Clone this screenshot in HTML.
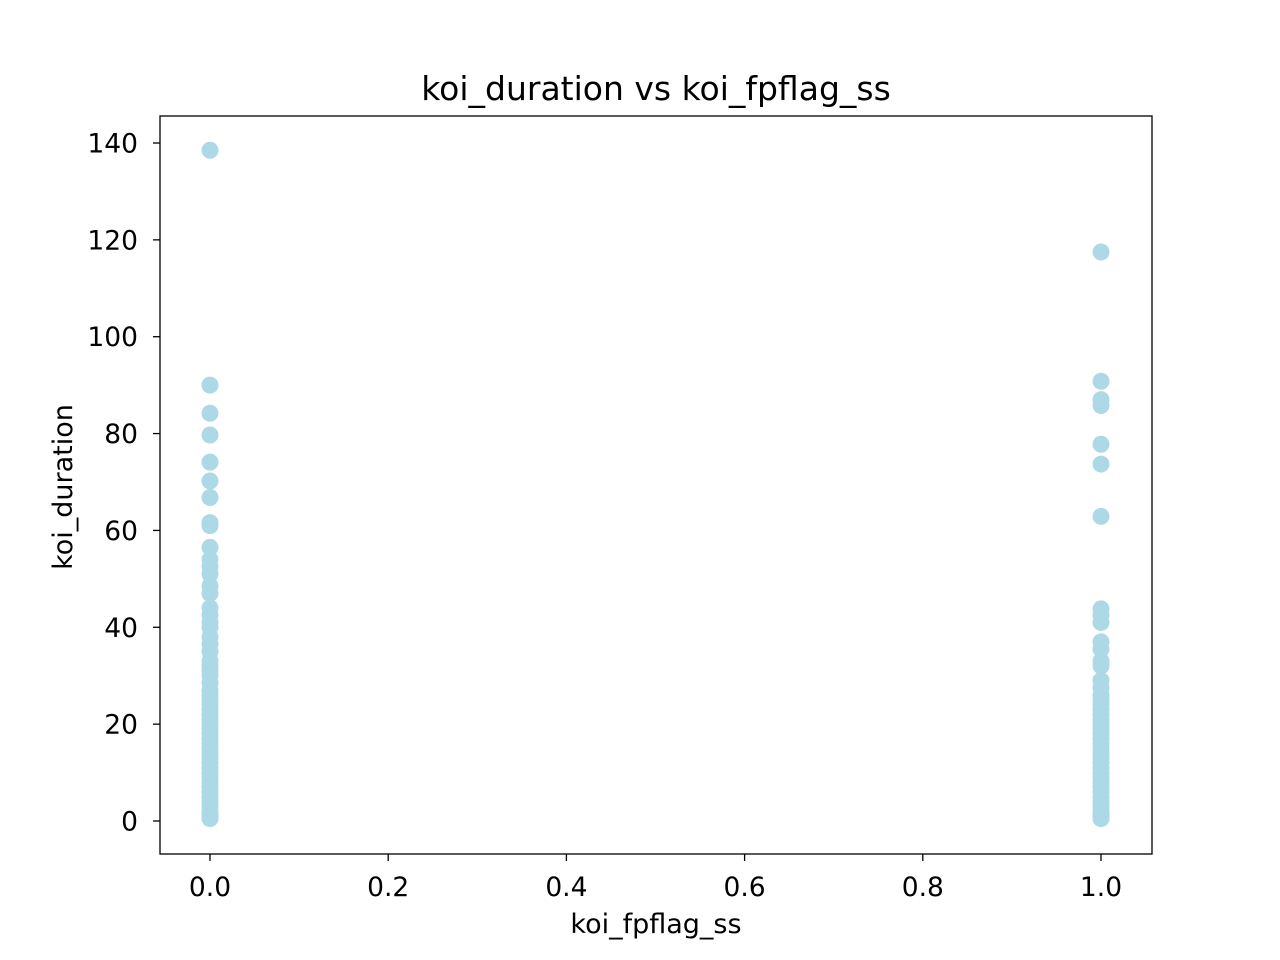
<!DOCTYPE html>
<html><head><meta charset="utf-8">
<style>
html,body{margin:0;padding:0;background:#fff;}
svg{display:block;font-family:"DejaVu Sans","Liberation Sans",sans-serif;}
</style></head>
<body>
<svg id="chart" width="1280" height="960">
  <rect x="0" y="0" width="1280" height="960" fill="#fff"/>
  <g id="points"></g>
  <rect x="160" y="116" width="992" height="738" fill="none" stroke="#000" stroke-width="1.3"/>
  <g id="xticks"></g>
  <g id="yticks"></g>
  <text x="656" y="100" text-anchor="middle" font-size="33">koi_duration vs koi_fpflag_ss</text>
  <text x="656" y="933" text-anchor="middle" font-size="27">koi_fpflag_ss</text>
  <text x="72" y="487" text-anchor="middle" font-size="27" transform="rotate(-90 72 487)">koi_duration</text>
</svg>
<script>
const xTicks = [0.0, 0.2, 0.4, 0.6, 0.8, 1.0];
const xTickLabels = ["0.0", "0.2", "0.4", "0.6", "0.8", "1.0"];
const yTicks = [0, 20, 40, 60, 80, 100, 120, 140];
const yTickLabels = ["0", "20", "40", "60", "80", "100", "120", "140"];
const durationsFlag0 = [138.5, 90, 84.2, 79.7, 74.1, 70.2, 66.8, 61.6, 61, 56.5, 54, 52.5, 51, 48.5, 47, 44, 42.5, 41, 40, 38, 36.5, 35, 33, 32, 31, 30, 28.5, 27, 26, 25, 24, 23, 22, 21, 20, 19, 18, 17, 16, 15, 14, 13, 12, 11, 10, 9, 8, 7, 6, 5, 4, 3, 2, 1.5, 1, 0.5];
const durationsFlag1 = [117.5, 90.8, 87, 85.8, 77.8, 73.7, 62.9, 43.8, 42.5, 41, 37, 35.5, 33, 32, 29, 27.5, 26, 25, 24, 23, 22, 21, 20, 19, 18, 17, 16, 15, 14, 13, 12, 11, 10, 9, 8, 7, 6, 5, 4, 3, 2, 1.5, 1, 0.5];

const NS = "http://www.w3.org/2000/svg";
const xs = v => 210 + v * (1101 - 210);
const ys = v => 821 - v * (821 - 143) / 140;

const pg = document.getElementById('points');
function plot(xv, arr) {
  arr.forEach(d => {
    const c = document.createElementNS(NS, 'circle');
    c.setAttribute('cx', xs(xv));
    c.setAttribute('cy', ys(d));
    c.setAttribute('r', 8.5);
    c.setAttribute('fill', '#add8e6');
    
    
    pg.appendChild(c);
  });
}
plot(0, durationsFlag0);
plot(1, durationsFlag1);

const xg = document.getElementById('xticks');
xTicks.forEach((t, i) => {
  const l = document.createElementNS(NS, 'line');
  l.setAttribute('x1', xs(t)); l.setAttribute('x2', xs(t));
  l.setAttribute('y1', 854); l.setAttribute('y2', 861);
  l.setAttribute('stroke', '#000'); l.setAttribute('stroke-width', 1.3);
  
  
  xg.appendChild(l);
  const tx = document.createElementNS(NS, 'text');
  tx.setAttribute('x', xs(t)); tx.setAttribute('y', 896);
  tx.setAttribute('text-anchor', 'middle'); tx.setAttribute('font-size', 26.5);
  tx.textContent = xTickLabels[i];
  
  
  xg.appendChild(tx);
});
const yg = document.getElementById('yticks');
yTicks.forEach((t, i) => {
  const l = document.createElementNS(NS, 'line');
  l.setAttribute('x1', 153); l.setAttribute('x2', 160);
  l.setAttribute('y1', ys(t)); l.setAttribute('y2', ys(t));
  l.setAttribute('stroke', '#000'); l.setAttribute('stroke-width', 1.3);
  
  
  yg.appendChild(l);
  const tx = document.createElementNS(NS, 'text');
  tx.setAttribute('x', 138); tx.setAttribute('y', ys(t) + 9.5);
  tx.setAttribute('text-anchor', 'end'); tx.setAttribute('font-size', 26.5);
  tx.textContent = yTickLabels[i];
  
  
  yg.appendChild(tx);
});
</script>
</body></html>
